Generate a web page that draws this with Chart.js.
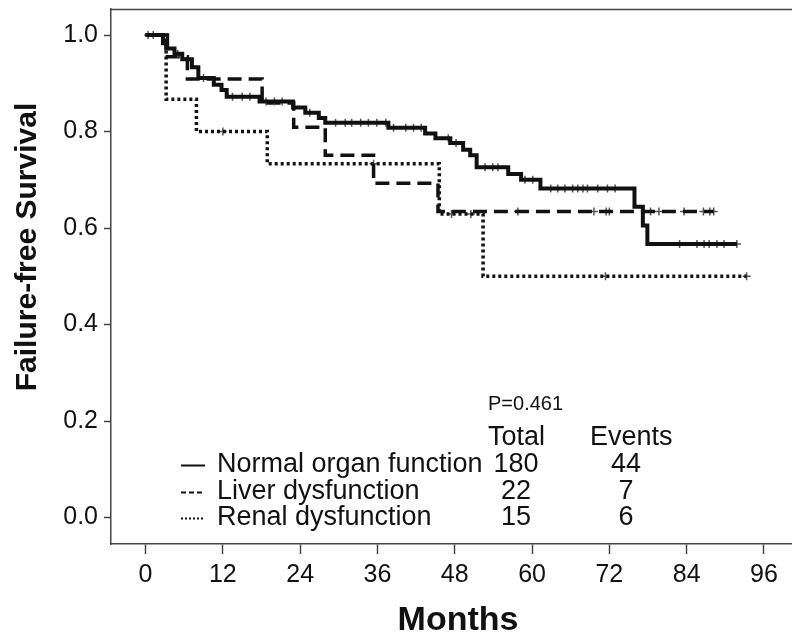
<!DOCTYPE html>
<html>
<head>
<meta charset="utf-8">
<script src="https://cdn.jsdelivr.net/npm/chart.js@4/dist/chart.umd.min.js"></script>
<style>
  html, body { margin: 0; padding: 0; background: #fff; overflow: hidden; }
  #wrap { position: relative; width: 800px; height: 642px; }
  #km { display: block; width: 800px; height: 642px; }
</style>
</head>
<body>
<div id="wrap"><canvas id="km" width="800" height="642"></canvas></div>
<script>
// Axis tick labels
const xTicks = [0, 12, 24, 36, 48, 60, 72, 84, 96];
const yTicks = [0.0, 0.2, 0.4, 0.6, 0.8, 1.0];

// Normal organ function: event times (months) and survival after each step
const normalTimes = [0, 2.7, 3.2, 4.5, 5.7, 7.2, 8.2, 10.6, 11.8, 12.6, 17.7, 22.9, 24.8, 26.9, 27.9, 37.7, 43.4, 45.0, 47.3, 49.3, 50.4, 51.4, 56.3, 58.3, 61.3, 75.9, 77.2, 77.9, 91.8];
const normalSurv  = [1.0, 0.983, 0.972, 0.961, 0.950, 0.933, 0.911, 0.897, 0.886, 0.872, 0.862, 0.850, 0.839, 0.828, 0.818, 0.808, 0.796, 0.786, 0.776, 0.762, 0.751, 0.726, 0.712, 0.700, 0.682, 0.644, 0.605, 0.567, 0.567];
const normalCensored = [0.4, 1.2, 5.0, 9.0, 13.5, 15.0, 16.2, 18.7, 20.0, 21.2, 25.5, 29.5, 31.0, 32.0, 33.4, 34.6, 35.9, 37.3, 38.5, 40.4, 41.6, 42.8, 47.0, 48.2, 52.7, 53.9, 54.7, 58.9, 60.1, 62.9, 64.0, 65.1, 66.3, 67.1, 67.9, 68.6, 70.2, 71.7, 72.9, 82.9, 85.6, 86.7, 87.5, 88.7, 89.8, 91.8];

// Liver dysfunction
const liverTimes = [0, 3.4, 6.5, 18.1, 23.0, 27.9, 35.4, 45.4, 88.2];
const liverSurv  = [1.0, 0.955, 0.909, 0.859, 0.809, 0.751, 0.693, 0.634, 0.634];
const liverCensored = [57.8, 69.6, 71.5, 72.0, 78.4, 79.7, 83.6, 86.6, 87.6, 88.2];

// Renal dysfunction
const renalTimes = [0, 3.2, 7.9, 18.9, 45.6, 52.4, 93.3];
const renalSurv  = [1.0, 0.867, 0.800, 0.733, 0.629, 0.500, 0.500];
const renalCensored = [12.0, 35.4, 47.5, 50.5, 71.4, 93.3];

// Summary table
const groupNames = ['Normal organ function', 'Liver dysfunction', 'Renal dysfunction'];
const groupTotals = [180, 22, 15];
const groupEvents = [44, 7, 6];
const pValueText = 'P=0.461';

const FONT = '"Liberation Sans", Arial, sans-serif';
const INK = '#111';
const AXIS = '#444';

function stepPoints(times, surv) {
  return times.map((t, i) => ({ x: t, y: surv[i] }));
}
function survivalAt(times, surv, t) {
  let s = surv[0];
  for (let i = 0; i < times.length; i++) { if (times[i] <= t) s = surv[i]; }
  return s;
}
function censorPoints(times, surv, cens) {
  return cens.map(t => ({ x: t, y: survivalAt(times, surv, t) }));
}

const lineStyle = (data, dash, width) => ({
  type: 'line', data, stepped: true, borderColor: INK, borderWidth: width,
  borderDash: dash, pointRadius: 0, fill: false, tension: 0, borderCapStyle: 'butt'
});
const censorStyle = (data) => ({
  type: 'scatter', data, showLine: false, pointStyle: 'cross', pointRadius: 4,
  borderColor: '#555', borderWidth: 1.5, backgroundColor: '#555'
});

// Scale boxes are fixed so the plot area sits exactly where it should
const noPad = s => { s.paddingTop = 0; s.paddingBottom = 0; s.paddingLeft = 0; s.paddingRight = 0; };

// Frame, axis titles and the summary table
const decor = {
  id: 'decor',
  afterDraw(chart) {
    const { ctx, chartArea: a } = chart;
    ctx.save();
    ctx.strokeStyle = AXIS;
    ctx.lineWidth = 1.5;
    ctx.beginPath();
    ctx.moveTo(a.left, a.top + 0.5);
    ctx.lineTo(a.right + 10, a.top + 0.5);
    ctx.stroke();

    ctx.fillStyle = INK;
    // y title
    ctx.save();
    ctx.translate(28, 247);
    ctx.rotate(-Math.PI / 2);
    ctx.font = 'bold 30px ' + FONT;
    ctx.textAlign = 'center';
    ctx.textBaseline = 'middle';
    ctx.fillText('Failure-free Survival', 0, 0);
    ctx.restore();
    // x title
    ctx.font = 'bold 34px ' + FONT;
    ctx.textAlign = 'center';
    ctx.textBaseline = 'middle';
    ctx.fillText('Months', 458, 621);

    // table
    ctx.textBaseline = 'middle';
    ctx.textAlign = 'left';
    ctx.font = '20px ' + FONT;
    ctx.fillText(pValueText, 488, 404);
    ctx.font = '27px ' + FONT;
    ctx.fillText('Total', 488, 438);
    ctx.fillText('Events', 590, 438);
    const rowsY = [465, 492, 518];
    const dashes = [[], [5, 3], [2, 2]];
    rowsY.forEach((y, i) => {
      ctx.save();
      ctx.strokeStyle = INK;
      ctx.lineWidth = 2;
      ctx.setLineDash(dashes[i]);
      ctx.beginPath();
      ctx.moveTo(181, y + 0.5);
      ctx.lineTo(205, y + 0.5);
      ctx.stroke();
      ctx.restore();
      ctx.textAlign = 'left';
      ctx.fillText(groupNames[i], 217, y);
      ctx.textAlign = 'center';
      ctx.fillText(String(groupTotals[i]), 516, y);
      ctx.fillText(String(groupEvents[i]), 626, y);
    });
    ctx.restore();
  }
};

new Chart(document.getElementById('km'), {
  data: {
    datasets: [
      lineStyle(stepPoints(normalTimes, normalSurv), [], 4),
      censorStyle(censorPoints(normalTimes, normalSurv, normalCensored)),
      lineStyle(stepPoints(liverTimes, liverSurv), [14, 7], 3.5),
      censorStyle(censorPoints(liverTimes, liverSurv, liverCensored)),
      lineStyle(stepPoints(renalTimes, renalSurv), [3, 3], 3.5),
      censorStyle(censorPoints(renalTimes, renalSurv, renalCensored))
    ]
  },
  options: {
    responsive: false,
    animation: false,
    devicePixelRatio: 1,
    layout: { padding: { top: 9, right: 2, left: 0, bottom: 0 } },
    plugins: { legend: { display: false }, tooltip: { enabled: false } },
    scales: {
      x: {
        type: 'linear', min: -5.36, max: 100.74,
        afterFit: s => { s.height = 98; noPad(s); },
        afterBuildTicks: s => { s.ticks = xTicks.map(v => ({ value: v })); },
        grid: { display: true, drawOnChartArea: false, drawTicks: true, tickLength: 10, tickColor: AXIS, tickWidth: 1.5 },
        border: { display: true, color: AXIS, width: 1.5 },
        ticks: { color: INK, font: { family: FONT, size: 25 }, padding: 6, maxRotation: 0, autoSkip: false, callback: v => String(v) }
      },
      y: {
        type: 'linear', min: -0.0549, max: 1.0539,
        afterFit: s => { s.width = 111; noPad(s); },
        afterBuildTicks: s => { s.ticks = yTicks.map(v => ({ value: v })); },
        grid: { display: true, drawOnChartArea: false, drawTicks: true, tickLength: 7, tickColor: AXIS, tickWidth: 1.5 },
        border: { display: true, color: AXIS, width: 1.5 },
        ticks: { color: INK, font: { family: FONT, size: 25 }, padding: 6, autoSkip: false, callback: v => v.toFixed(1) }
      }
    }
  },
  plugins: [decor]
});
</script>
</body>
</html>
